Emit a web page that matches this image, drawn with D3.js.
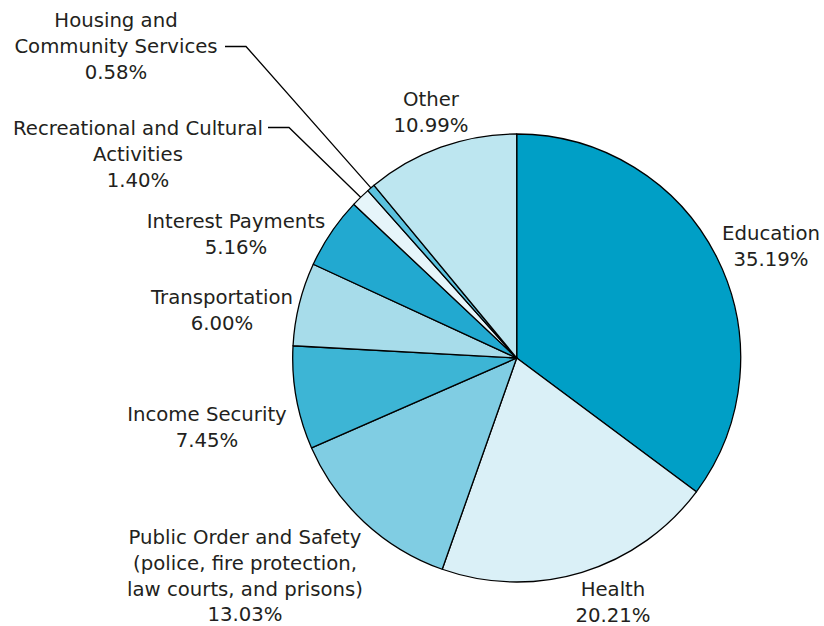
<!DOCTYPE html>
<html>
<head>
<meta charset="utf-8">
<script src="https://cdn.jsdelivr.net/npm/d3@7/dist/d3.min.js"></script>
<style>
  html, body { margin: 0; padding: 0; background: #fff; }
  svg text { font-family: "DejaVu Sans", "Liberation Sans", sans-serif; font-size: 19.7px; fill: #231f20; }
</style>
</head>
<body>
<svg id="chart" width="824" height="626"></svg>
<script>
// Spending shares, clockwise from twelve o'clock
const categories = [
  "Education", "Health", "Public Order and Safety", "Income Security",
  "Transportation", "Interest Payments", "Recreational and Cultural Activities",
  "Housing and Community Services", "Other"
];
const shares = [35.19, 20.21, 13.03, 7.45, 6.00, 5.16, 1.40, 0.58, 10.99];
const sliceColors = ["#009fc6", "#daf0f7", "#80cde3", "#3db5d5", "#a7dcea",
                     "#22a9d0", "#e6f5fa", "#5bc2df", "#bde6f0"];
// Label text lines for each slice (the share is appended below them)
const labelLines = [
  ["Education"],
  ["Health"],
  ["Public Order and Safety", "(police, fire protection,", "law courts, and prisons)"],
  ["Income Security"],
  ["Transportation"],
  ["Interest Payments"],
  ["Recreational and Cultural", "Activities"],
  ["Housing and", "Community Services"],
  ["Other"]
];

// Label layout: center x, first baseline y, optional leader elbow
const labelLayout = [
  { x: 771, y: 240 },
  { x: 613, y: 596 },
  { x: 245, y: 544 },
  { x: 207, y: 421 },
  { x: 222, y: 304 },
  { x: 236, y: 228 },
  { x: 138, y: 135, leader: { x0: 268, x1: 289, y: 127.5 } },
  { x: 116, y: 27,  leader: { x0: 225, x1: 246, y: 46.5 } },
  { x: 431, y: 106 }
];

const cx = 516.7, cy = 358, radius = 224, lineGap = 25.8;

const svg = d3.select("#chart");
const g = svg.append("g").attr("transform", `translate(${cx},${cy})`);

const pie = d3.pie().sort(null).value(d => d.value);
const arcs = pie(categories.map((c, i) => ({ name: c, value: shares[i], idx: i })));
const arc = d3.arc().innerRadius(0).outerRadius(radius);

g.selectAll("path.slice")
  .data(arcs)
  .join("path")
  .attr("class", "slice")
  .attr("d", arc)
  .attr("fill", d => sliceColors[d.data.idx])
  .attr("stroke", "#000")
  .attr("stroke-width", 1.3)
  .attr("stroke-linejoin", "round");

// Leader lines for the thin slices
arcs.forEach(d => {
  const lay = labelLayout[d.data.idx];
  if (!lay.leader) return;
  const mid = (d.startAngle + d.endAngle) / 2;
  const px = cx + radius * Math.sin(mid);
  const py = cy - radius * Math.cos(mid);
  svg.append("polyline")
    .attr("points", `${lay.leader.x0},${lay.leader.y} ${lay.leader.x1},${lay.leader.y} ${px},${py}`)
    .attr("fill", "none")
    .attr("stroke", "#000")
    .attr("stroke-width", 1.3);
});

// Labels
const fmt = d3.format(".2f");
arcs.forEach(d => {
  const i = d.data.idx;
  const lay = labelLayout[i];
  const lines = labelLines[i].concat([fmt(shares[i]) + "%"]);
  const t = svg.append("text").attr("text-anchor", "middle");
  lines.forEach((ln, k) => {
    t.append("tspan").attr("x", lay.x).attr("y", lay.y + k * lineGap).text(ln);
  });
});
</script>
</body>
</html>
